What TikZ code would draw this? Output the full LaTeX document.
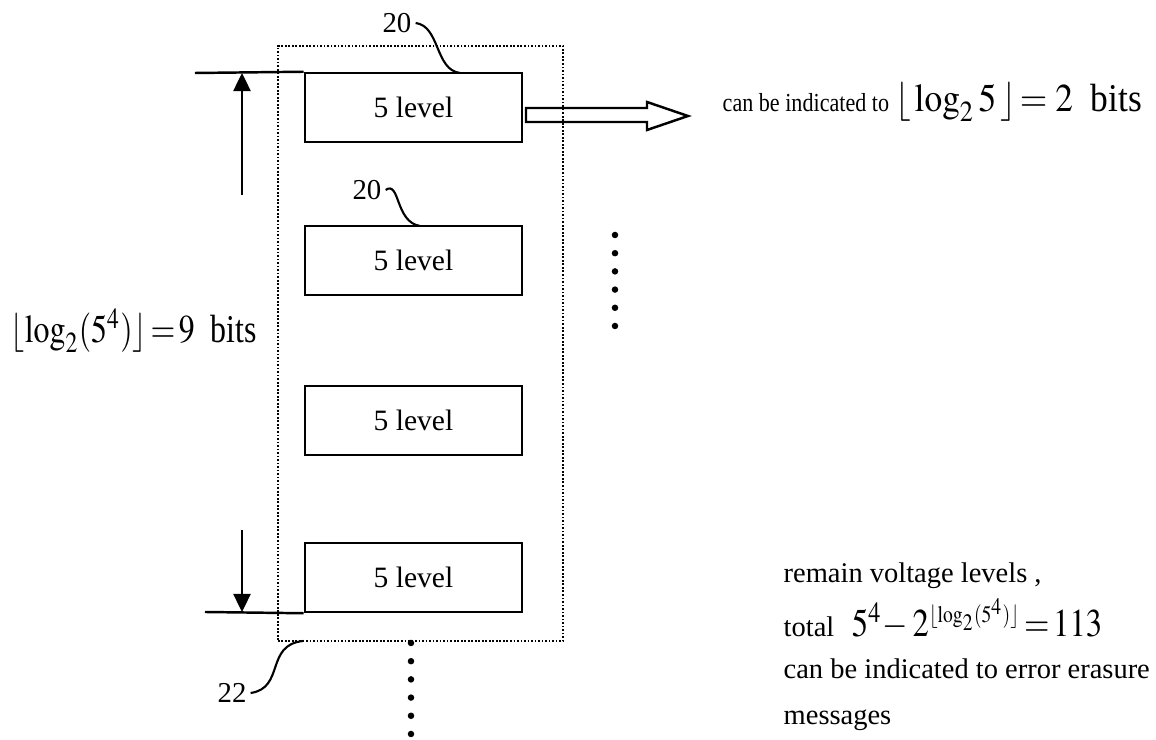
\documentclass[tikz,border=0pt]{standalone}
\usepackage{mathptmx}
\usepackage[no-math]{fontspec}
\setmainfont{Liberation Serif}
\usetikzlibrary{arrows.meta,positioning,calc}
\newcommand\topsz{\fontsize{7.4}{8}\selectfont}
\newcommand\notesz{\fontsize{8.1}{10}\selectfont}
\newcommand\bigsz{\fontsize{11.2}{13}\selectfont}
\tikzset{>={Triangle[length=.18cm,width=.17cm]},line width=.6pt,
  lvbox/.style={draw,line width=.7pt,minimum width=2.17cm,minimum height=.69cm,inner sep=0pt,font=\fontsize{8.4}{10}\selectfont},
  grpbox/.style={draw,line width=.5pt,dash pattern=on .5pt off .5pt,minimum width=2.85cm,minimum height=5.95cm,inner sep=0pt},
  refnum/.style={font=\fontsize{8.2}{9}\selectfont,inner sep=1pt},
  leader/.style={line width=.6pt},
  vdot/.style={circle,fill,inner sep=0pt,minimum size=.065cm},
  txt/.style={anchor=base west,inner sep=0pt},
  dimline/.style={line width=.7pt}}
\begin{document}
\begin{tikzpicture}[x=.01cm,y=-.01cm]
\useasboundingbox (0,0) rectangle (1156,740);
\node[grpbox] (grp) at (420.5,343.5) {};
\node[lvbox] (lv1) at (413.5,107.5) {5 level};
\node[lvbox] (lv2) at (413.5,260.5) {5 level};
\node[lvbox] (lv3) at (413.5,420.5) {5 level};
\node[lvbox] (lv4) at (413.5,577.5) {5 level};
% reference numerals
\node[refnum] (r20a) at (397,23) {20};
\draw[leader] (r20a.east) .. controls (440,26) and (435,70) .. (460,73);
\node[refnum] (r20b) at (367,190) {20};
\draw[leader] (r20b.east) .. controls (400,180) and (395,222) .. (420,226);
\node[refnum] (r22) at (232,693) {22};
\draw[leader] (r22.east) .. controls (285,688) and (265,645) .. (303,641);
% hollow arrow
\draw[line width=.7pt] (526,108) -- (647,108) -- (647,102) -- (688,116) -- (647,130) -- (647,122) -- (526,122) -- cycle;
\node[txt] (ind) at (722,112) {\scalebox{.85}[1]{\topsz can be indicated to}\,{\bigsz\scalebox{.9}[1]{$\lfloor\,\log_2 5\,\rfloor\!=2$\ \ bits}}};
% dimension
\coordinate (dt) at (242,73);
\coordinate (db) at (242,612);
\draw[dimline] (195,73) -- (lv1.north west);
\draw[dimline] (205,612) -- (lv4.south west);
\draw[dimline,->] (242,195) -- (dt);
\draw[dimline,->] (242,530) -- (db);
\node[txt,font=\bigsz] (nbits) at (10,343) {\scalebox{.81}[1]{$\lfloor\log_2(5^4)\rfloor\!=\!9$\ \ bits}};
% continuation dots
\foreach \i in {0,...,5} \node[vdot] (rd\i) at (615,235+18.2*\i) {};
\foreach \i in {0,...,5} \node[vdot] (bd\i) at (411,643+18.2*\i) {};
% remaining levels
\node[txt,font=\notesz] (rem) at (783,583) {remain voltage levels ,};
\node[txt] (tot) at (783,637) {{\notesz total}\ \ {\bigsz\scalebox{.83}[1]{$5^4\!-2^{\scriptscriptstyle\lfloor\log_2(5^4)\rfloor}\!=\!113$}}};
\node[txt,font=\notesz] (err) at (783,679) {can be indicated to error erasure};
\node[txt,font=\notesz] (msg) at (783,725) {messages};
\end{tikzpicture}
\end{document}
